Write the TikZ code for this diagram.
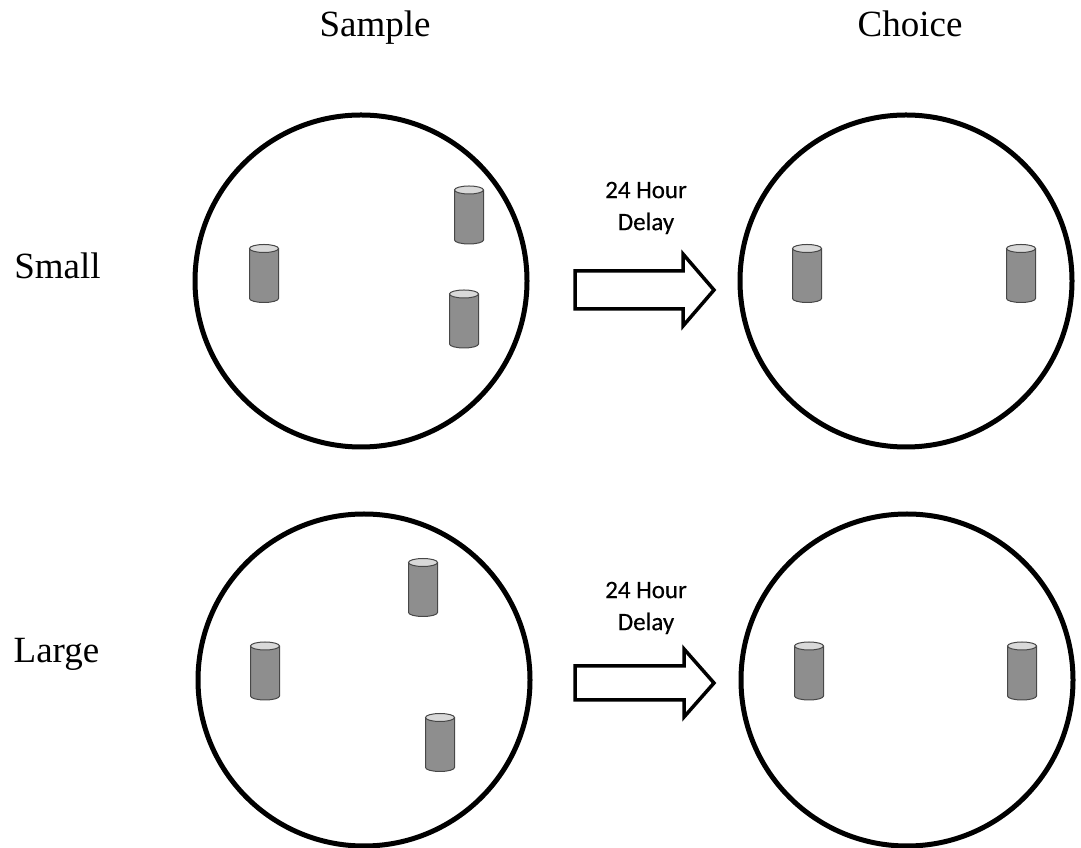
\documentclass[tikz,border=0pt]{standalone}
\usepackage{fontspec}
\setmainfont{Liberation Serif}
\newfontfamily\calibrifont[FakeBold=0.4]{Carlito}
\definecolor{canbody}{HTML}{8E8E8E}
\definecolor{canedge}{HTML}{474747}
\definecolor{cantop}{HTML}{D9D9D9}
\begin{document}
\begin{tikzpicture}[x=1pt,y=1pt,
  arena/.style={circle,draw=black,line width=5pt,minimum size=332pt,inner sep=0pt},
  heading/.style={font=\fontsize{37}{40}\selectfont,anchor=base,inner sep=0pt},
  delaytext/.style={font=\calibrifont\fontsize{25}{32}\selectfont,align=center},
  blockarrow/.style={draw=black,fill=white,line width=3.5pt,line join=miter},
  can/.pic={
    \fill[canbody] (-14.5,25) -- (-14.5,-25) arc[start angle=180,end angle=360,x radius=14.5,y radius=4] -- (14.5,25) -- cycle;
    \draw[canedge,line width=1pt] (-14.5,25) -- (-14.5,-25) arc[start angle=180,end angle=360,x radius=14.5,y radius=4] -- (14.5,25);
    \filldraw[fill=cantop,draw=canedge,line width=1pt] (0,25) ellipse[x radius=14.5,y radius=4];
  }]
\useasboundingbox (0,0) rectangle (1081,848);

% column and row headings
\node[heading] (sample) at (375,811) {Sample};
\node[heading] (choice) at (910,811) {Choice};
\node[heading] (small) at (57.5,569) {Small};
\node[heading] (large) at (56.5,185) {Large};

% arenas
\node[arena] (smallS) at (361,567) {};
\node[arena] (smallC) at (906,567) {};
\node[arena] (largeS) at (364,168) {};
\node[arena] (largeC) at (907,168) {};

% objects in the arenas
\pic at (264,574.5) {can};
\pic at (469,633) {can};
\pic at (464,529) {can};
\pic at (807,574.5) {can};
\pic at (1021,574.5) {can};

\pic at (265,177) {can};
\pic at (423,260.5) {can};
\pic at (440,105.5) {can};
\pic at (809,177) {can};
\pic at (1022,177) {can};

% delay arrows
\coordinate (topTail) at (575,558);
\draw[blockarrow] (topTail) ++(0,19) -- ++(108,0) -- ++(0,17) -- ++(31,-36) -- ++(-31,-36) -- ++(0,17) -- ++(-108,0) -- cycle;
\node[delaytext] (topDelay) at (646,640) {24 Hour\\Delay};

\coordinate (botTail) at (575,165);
\draw[blockarrow] (botTail) ++(0,17) -- ++(109,0) -- ++(0,17) -- ++(30,-34) -- ++(-30,-34) -- ++(0,17) -- ++(-109,0) -- cycle;
\node[delaytext] (botDelay) at (646,240) {24 Hour\\Delay};
\end{tikzpicture}
\end{document}
